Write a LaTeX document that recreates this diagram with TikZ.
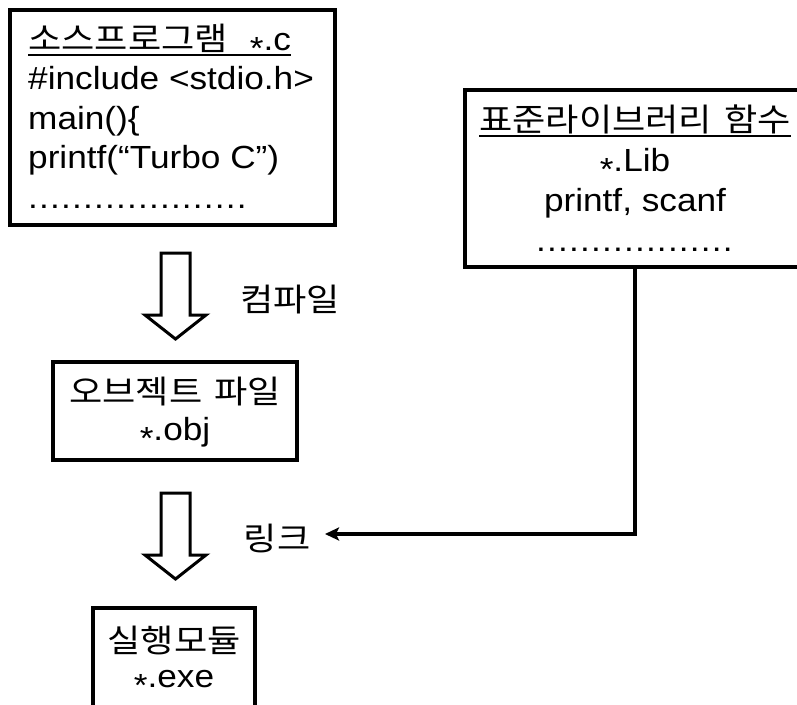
\documentclass[tikz,border=0pt]{standalone}
\usepackage{fontspec}
\setmainfont{Liberation Sans}[FakeStretch=1.1]
\newfontfamily\kr{Noto Sans CJK KR}[FakeStretch=1.13]
\usetikzlibrary{arrows.meta}
\newcommand\myast{\raisebox{-0.3em}{*}}
\newcommand\myul[1]{\setbox0=\hbox{#1}\makebox[0pt][l]{\rule[-6pt]{\wd0}{2.2pt}}\box0}
\newcommand\dt{.\kern1.2pt}
\begin{document}
\begin{tikzpicture}[x=1pt,y=-1pt,
  box/.style={draw, line width=4.5pt, fill=white, inner sep=0pt},
  txt/.style={inner sep=0pt, font=\fontsize{32}{40}\selectfont},
  conn/.style={line width=4pt, -{Stealth[length=14pt,width=13pt,inset=3pt]}},
  fatarrow/.pic={\draw[line width=3pt, line join=miter, fill=white]
     (-14.5,0) -- (14.5,0) -- (14.5,62) -- (30.5,62) -- (0,86) -- (-30.5,62) -- (-14.5,62) -- cycle;}]
\fill[white] (0,0) rectangle (797,704);
\useasboundingbox (0,0) rectangle (797,704);

% source program box
\node[box, minimum width=325pt, minimum height=215pt] (src) at (172.5,117.5) {};
\node[txt, anchor=base west, font=\fontsize{32}{39.5}\selectfont] (srct) at (28,50)
  {\begin{tabular}[t]{@{}l@{}}
   \myul{{\kr 소스프로그램}\hspace{22pt}\myast.c}\\
   \#include <stdio.h>\\
   main()\{\\
   printf(“Turbo C”)\\
   \dt\dt\dt\dt\dt\dt\dt\dt\dt\dt\dt\dt\dt\dt\dt\dt\dt\dt\dt\dt
   \end{tabular}};

% library box
\node[box, minimum width=340pt, minimum height=177pt] (lib) at (635,178.5) {};
\node[txt, anchor=base, font=\fontsize{32}{40}\selectfont] (libt) at (635,131)
  {\begin{tabular}[t]{@{}c@{}}
   \myul{{\kr 표준라이브러리}\hspace{12pt}{\kr 함수}}\\
   \myast.Lib\\
   printf, scanf\\
   \dt\dt\dt\dt\dt\dt\dt\dt\dt\dt\dt\dt\dt\dt\dt\dt\dt\dt
   \end{tabular}};

% object file box
\node[box, minimum width=244pt, minimum height=98pt] (obj) at (175,411) {};
\node[txt, anchor=base, font=\fontsize{32}{37}\selectfont] (objt) at (175,403)
  {\begin{tabular}[t]{@{}c@{}}
   {\kr 오브젝트}\hspace{12pt}{\kr 파일}\\
   \myast.obj
   \end{tabular}};

% executable box
\node[box, minimum width=162pt, minimum height=110pt] (exe) at (174,663) {};
\node[txt, anchor=base, font=\fontsize{32}{35}\selectfont] (exet) at (174,652)
  {\begin{tabular}[t]{@{}c@{}}
   {\kr 실행모듈}\\
   \myast.exe
   \end{tabular}};

% hollow arrows
\pic at (175.5,253) {fatarrow};
\pic at (175.5,493) {fatarrow};

% labels
\node[txt] (compile) at (290,300) {\kr 컴파일};
\node[txt] (link) at (277,538) {\kr 링크};

% link connector
\coordinate (linkend) at (325,534);
\draw[conn] (lib.south) |- (linkend);
\end{tikzpicture}
\end{document}
